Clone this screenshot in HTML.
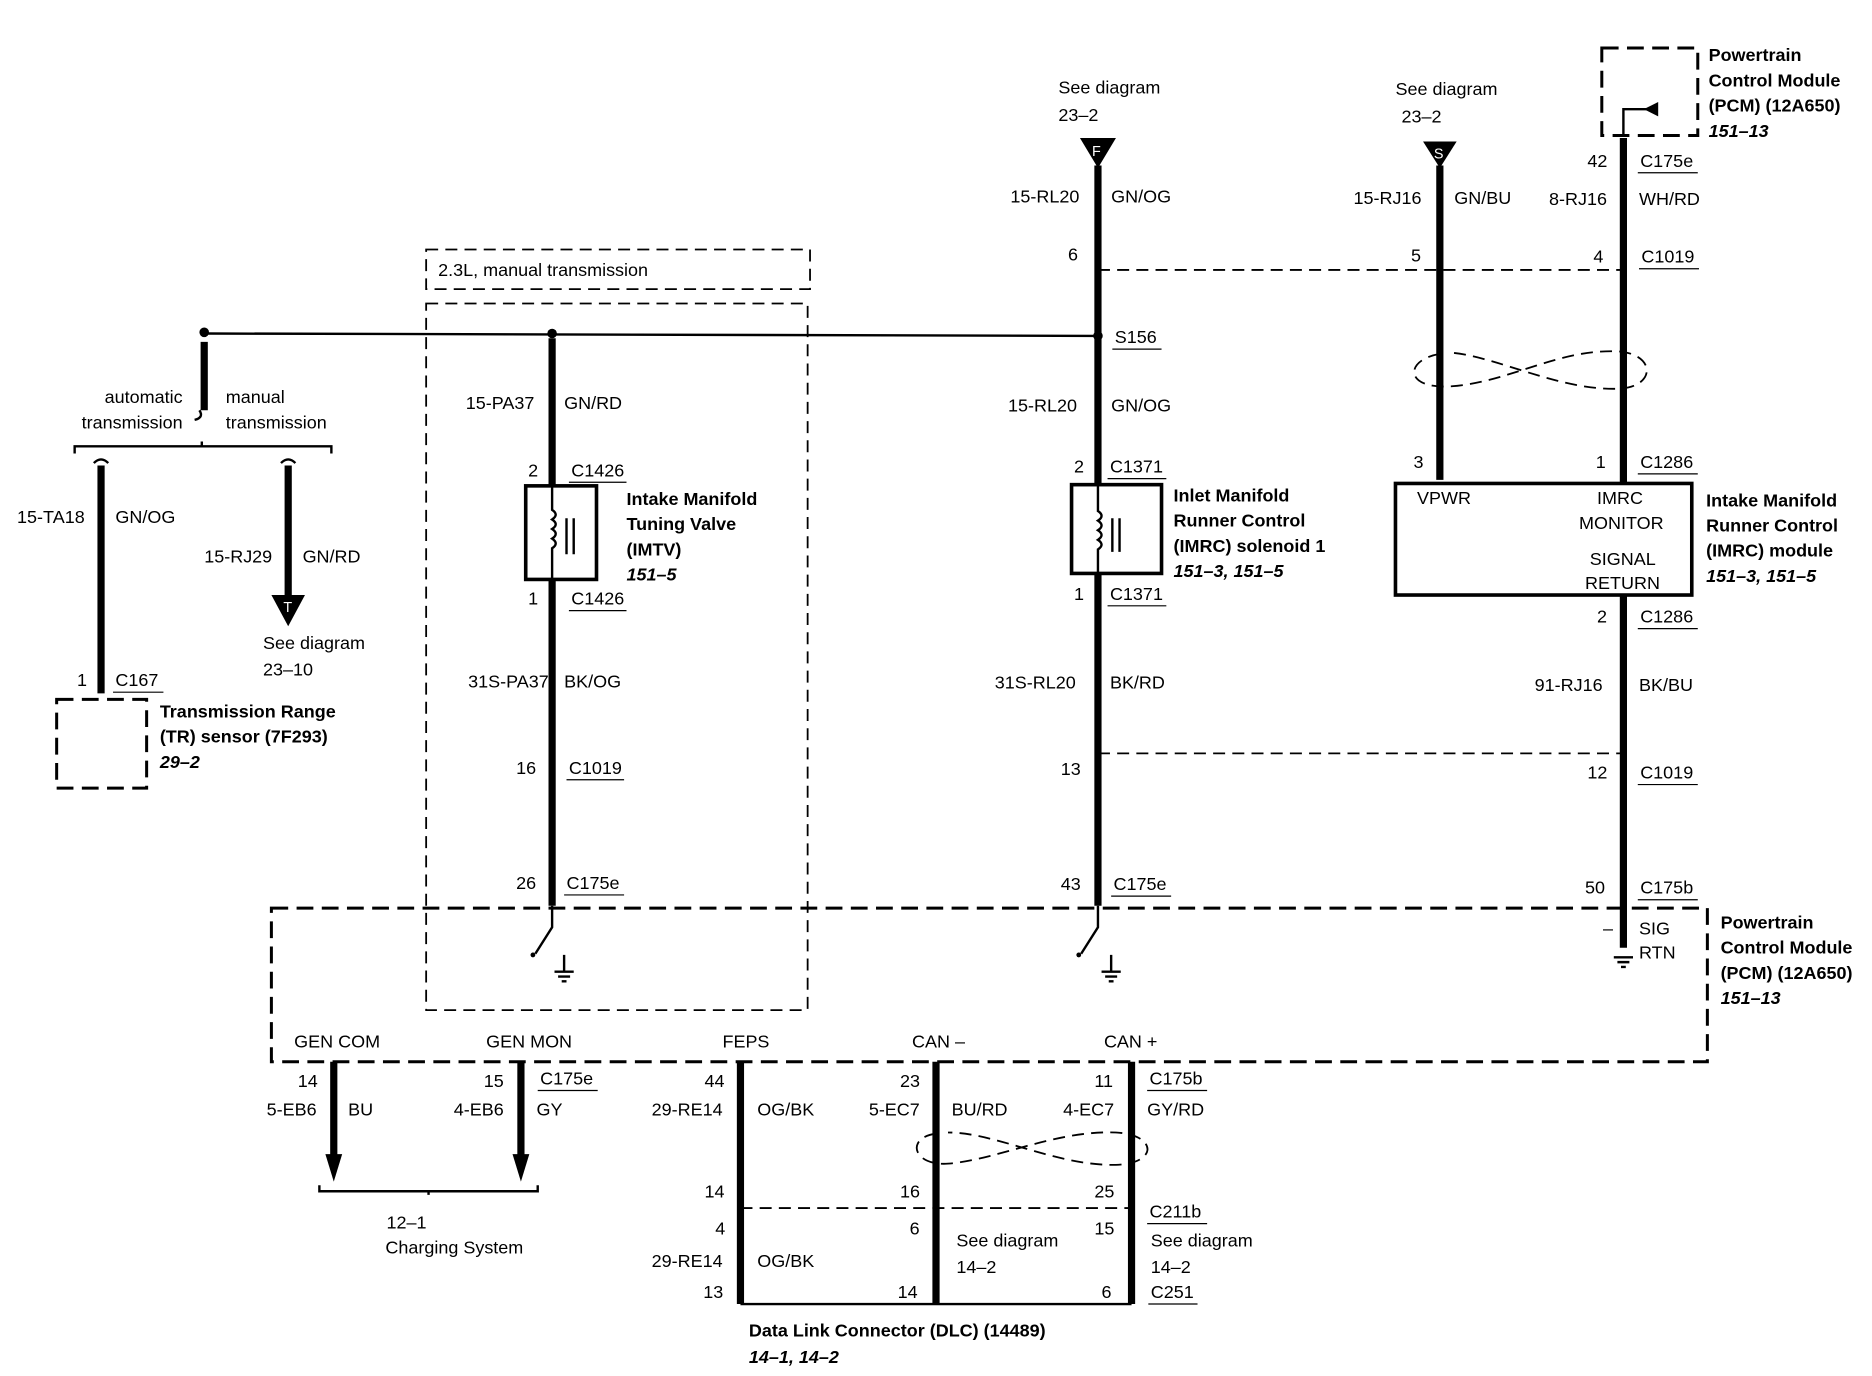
<!DOCTYPE html>
<html><head><meta charset="utf-8"><style>
html,body{margin:0;padding:0;background:#fff}
svg{display:block}
text{font-family:"Liberation Sans",sans-serif;font-size:15px;fill:#000}
.b{font-weight:bold}
.i{font-weight:bold;font-style:italic}
.w{stroke:#000;stroke-width:6;fill:none}
.t{stroke:#000;stroke-width:2;fill:none}
.d{stroke:#000;stroke-width:2.5;fill:none;stroke-dasharray:14 7}
.dd{stroke:#000;stroke-width:1.5;fill:none;stroke-dasharray:10 6}
.u{stroke:#000;stroke-width:1;}
</style></head><body>
<svg width="1872" height="1376" viewBox="0 0 1560 1147" xmlns="http://www.w3.org/2000/svg">
<line x1="170" y1="278" x2="915" y2="280" class="t"/>
<circle cx="170" cy="277" r="4"/><circle cx="460" cy="278" r="4"/><circle cx="915" cy="280" r="4"/>
<line x1="170" y1="285" x2="170" y2="342" class="w"/>
<path d="M166 342 q4 6 -4 8" class="t"/>
<text x="152" y="336" text-anchor="end">automatic</text>
<text x="152" y="357" text-anchor="end">transmission</text>
<text x="188" y="336">manual</text>
<text x="188" y="357">transmission</text>
<path d="M62 378 v-6 h214 v6 M168 372 v-4" class="t"/>
<line x1="84" y1="388" x2="84" y2="578" class="w"/>
<path d="M78 386 q6 -6 12 0" class="t"/>
<text x="14" y="436">15-TA18</text><text x="96" y="436">GN/OG</text>
<text x="64" y="572">1</text><text x="96" y="572">C167</text><line x1="94" y1="577" x2="136" y2="577" class="u"/>
<rect x="47" y="583" width="75" height="74" class="d"/>
<text x="133" y="598" class="b">Transmission Range</text>
<text x="133" y="619" class="b">(TR) sensor (7F293)</text>
<text x="133" y="640" class="i">29–2</text>
<line x1="240" y1="388" x2="240" y2="500" class="w"/>
<path d="M234 386 q6 -6 12 0" class="t"/>
<polygon points="226,496 254,496 240,522"/>
<text x="236" y="510" style="fill:#fff;font-size:12px">T</text>
<text x="170" y="469">15-RJ29</text><text x="252" y="469">GN/RD</text>
<text x="219" y="541">See diagram</text><text x="219" y="563">23–10</text>
<rect x="355" y="208" width="320" height="33" class="dd"/>
<text x="365" y="230">2.3L, manual transmission</text>
<rect x="355" y="253" width="318" height="589" class="dd"/>
<line x1="460" y1="282" x2="460" y2="405" class="w"/>
<line x1="460" y1="483" x2="460" y2="755" class="w"/>
<text x="388" y="341">15-PA37</text><text x="470" y="341">GN/RD</text>
<text x="440" y="397">2</text><text x="476" y="397">C1426</text><line x1="474" y1="402" x2="522" y2="402" class="u"/>
<rect x="438" y="405" width="59" height="78" fill="none" stroke="#000" stroke-width="3"/>
<path d="M460 405 v20 q6 4 0 8 q6 4 0 8 q6 4 0 8 q6 4 0 8 v26" class="t"/>
<path d="M472 432 v30 M478 432 v30" class="t"/>
<text x="440" y="504">1</text><text x="476" y="504">C1426</text><line x1="474" y1="509" x2="522" y2="509" class="u"/>
<text x="390" y="573">31S-PA37</text><text x="470" y="573">BK/OG</text>
<text x="430" y="645">16</text><text x="474" y="645">C1019</text><line x1="472" y1="650" x2="520" y2="650" class="u"/>
<text x="430" y="741">26</text><text x="472" y="741">C175e</text><line x1="470" y1="746" x2="520" y2="746" class="u"/>
<path d="M460 755 v18 l-14 22" class="t"/><circle cx="444" cy="796" r="2"/>
<path d="M470 796 v14 M462 810 h16 M465 814 h10 M468 818 h4" class="t"/>
<text x="522" y="421" class="b">Intake Manifold</text>
<text x="522" y="442" class="b">Tuning Valve</text>
<text x="522" y="463" class="b">(IMTV)</text>
<text x="522" y="484" class="i">151–5</text>
<polygon points="900,115 930,115 915,140"/>
<text x="910" y="130" style="fill:#fff;font-size:12px">F</text>
<text x="882" y="78">See diagram</text><text x="882" y="101">23–2</text>
<line x1="915" y1="138" x2="915" y2="404" class="w"/>
<line x1="915" y1="478" x2="915" y2="755" class="w"/>
<text x="842" y="169">15-RL20</text><text x="926" y="169">GN/OG</text>
<text x="890" y="217">6</text>
<line x1="915" y1="225" x2="1355" y2="225" class="dd"/>
<text x="929" y="286">S156</text><line x1="927" y1="291" x2="968" y2="291" class="u"/>
<text x="840" y="343">15-RL20</text><text x="926" y="343">GN/OG</text>
<text x="895" y="394">2</text><text x="925" y="394">C1371</text><line x1="923" y1="399" x2="972" y2="399" class="u"/>
<rect x="893" y="404" width="75" height="74" fill="none" stroke="#000" stroke-width="3"/>
<path d="M915 404 v22 q6 4 0 8 q6 4 0 8 q6 4 0 8 q6 4 0 8 v20" class="t"/>
<path d="M927 432 v28 M933 432 v28" class="t"/>
<text x="895" y="500">1</text><text x="925" y="500">C1371</text><line x1="923" y1="505" x2="972" y2="505" class="u"/>
<text x="829" y="574">31S-RL20</text><text x="925" y="574">BK/RD</text>
<text x="884" y="646">13</text>
<line x1="915" y1="628" x2="1355" y2="628" class="dd"/>
<text x="884" y="742">43</text><text x="928" y="742">C175e</text><line x1="926" y1="747" x2="976" y2="747" class="u"/>
<path d="M915 755 v18 l-14 22" class="t"/><circle cx="899" cy="796" r="2"/>
<path d="M926 796 v14 M918 810 h16 M921 814 h10 M924 818 h4" class="t"/>
<text x="978" y="418" class="b">Inlet Manifold</text>
<text x="978" y="439" class="b">Runner Control</text>
<text x="978" y="460" class="b">(IMRC) solenoid 1</text>
<text x="978" y="481" class="i">151–3, 151–5</text>
<polygon points="1186,118 1214,118 1200,140"/>
<text x="1195" y="132" style="fill:#fff;font-size:12px">S</text>
<text x="1163" y="79">See diagram</text><text x="1168" y="102">23–2</text>
<line x1="1200" y1="138" x2="1200" y2="400" class="w"/>
<text x="1128" y="170">15-RJ16</text><text x="1212" y="170">GN/BU</text>
<text x="1176" y="218">5</text>
<rect x="1335" y="40" width="80" height="73" class="d"/>
<path d="M1353 113 v-22 h24" class="t"/><polygon points="1382,85 1370,91 1382,97"/>
<line x1="1353" y1="115" x2="1353" y2="403" class="w"/>
<line x1="1353" y1="496" x2="1353" y2="790" class="w"/>
<text x="1424" y="51" class="b">Powertrain</text>
<text x="1424" y="72" class="b">Control Module</text>
<text x="1424" y="93" class="b">(PCM) (12A650)</text>
<text x="1424" y="114" class="i">151–13</text>
<text x="1323" y="139">42</text><text x="1367" y="139">C175e</text><line x1="1365" y1="144" x2="1415" y2="144" class="u"/>
<text x="1291" y="171">8-RJ16</text><text x="1366" y="171">WH/RD</text>
<text x="1328" y="219">4</text><text x="1368" y="219">C1019</text><line x1="1366" y1="224" x2="1416" y2="224" class="u"/>
<path d="M1200 295 C1170 300 1170 325 1210 322 C1260 318 1300 290 1350 293 C1380 296 1380 322 1350 324 C1300 326 1250 298 1210 294" class="dd"/>
<text x="1178" y="390">3</text><text x="1330" y="390">1</text><text x="1367" y="390">C1286</text><line x1="1365" y1="395" x2="1415" y2="395" class="u"/>
<rect x="1163" y="403" width="247" height="93" fill="none" stroke="#000" stroke-width="3"/>
<text x="1181" y="420">VPWR</text><text x="1331" y="420">IMRC</text><text x="1316" y="441">MONITOR</text>
<text x="1325" y="471">SIGNAL</text><text x="1321" y="491">RETURN</text>
<text x="1422" y="422" class="b">Intake Manifold</text>
<text x="1422" y="443" class="b">Runner Control</text>
<text x="1422" y="464" class="b">(IMRC) module</text>
<text x="1422" y="485" class="i">151–3, 151–5</text>
<text x="1331" y="519">2</text><text x="1367" y="519">C1286</text><line x1="1365" y1="524" x2="1415" y2="524" class="u"/>
<text x="1279" y="576">91-RJ16</text><text x="1366" y="576">BK/BU</text>
<text x="1323" y="649">12</text><text x="1367" y="649">C1019</text><line x1="1365" y1="654" x2="1415" y2="654" class="u"/>
<text x="1321" y="745">50</text><text x="1367" y="745">C175b</text><line x1="1365" y1="750" x2="1415" y2="750" class="u"/>
<text x="1336" y="779">–</text><text x="1366" y="779">SIG</text><text x="1366" y="799">RTN</text>
<path d="M1345 798 h16 M1348 802 h10 M1351 806 h4" class="t"/>
<rect x="226" y="757" width="1197" height="128" class="d"/>
<text x="1434" y="774" class="b">Powertrain</text>
<text x="1434" y="795" class="b">Control Module</text>
<text x="1434" y="816" class="b">(PCM) (12A650)</text>
<text x="1434" y="837" class="i">151–13</text>
<text x="245" y="873">GEN COM</text><text x="405" y="873">GEN MON</text><text x="602" y="873">FEPS</text>
<text x="760" y="873">CAN –</text><text x="920" y="873">CAN +</text>
<line x1="278" y1="885" x2="278" y2="965" class="w"/><polygon points="271,962 285,962 278,985"/>
<line x1="434" y1="885" x2="434" y2="965" class="w"/><polygon points="427,962 441,962 434,985"/>
<text x="248" y="906">14</text><text x="222" y="930">5-EB6</text><text x="290" y="930">BU</text>
<text x="403" y="906">15</text><text x="450" y="904">C175e</text><line x1="448" y1="909" x2="498" y2="909" class="u"/>
<text x="378" y="930">4-EB6</text><text x="447" y="930">GY</text>
<path d="M266 988 v5 h182 v-5 M357 993 v3" class="t"/>
<text x="322" y="1024">12–1</text><text x="321" y="1045">Charging System</text>
<line x1="617" y1="885" x2="617" y2="1087" class="w"/>
<line x1="780" y1="885" x2="780" y2="1087" class="w"/>
<line x1="943" y1="885" x2="943" y2="1087" class="w"/>
<line x1="617" y1="1007" x2="943" y2="1007" class="dd"/>
<line x1="617" y1="1087" x2="943" y2="1087" class="t"/>
<text x="587" y="906">44</text><text x="543" y="930">29-RE14</text><text x="631" y="930">OG/BK</text>
<text x="750" y="906">23</text><text x="724" y="930">5-EC7</text><text x="793" y="930">BU/RD</text>
<text x="912" y="906">11</text><text x="958" y="904">C175b</text><line x1="956" y1="909" x2="1006" y2="909" class="u"/>
<text x="886" y="930">4-EC7</text><text x="956" y="930">GY/RD</text>
<path d="M780 945 C755 948 760 972 790 970 C830 967 880 942 930 944 C965 946 965 970 930 971 C880 972 830 944 790 944" class="dd"/>
<text x="587" y="998">14</text><text x="750" y="998">16</text><text x="912" y="998">25</text>
<text x="958" y="1015">C211b</text><line x1="956" y1="1020" x2="1006" y2="1020" class="u"/>
<text x="596" y="1029">4</text><text x="758" y="1029">6</text><text x="912" y="1029">15</text>
<text x="797" y="1039">See diagram</text><text x="797" y="1061">14–2</text>
<text x="959" y="1039">See diagram</text><text x="959" y="1061">14–2</text>
<text x="543" y="1056">29-RE14</text><text x="631" y="1056">OG/BK</text>
<text x="586" y="1082">13</text><text x="748" y="1082">14</text><text x="918" y="1082">6</text>
<text x="959" y="1082">C251</text><line x1="957" y1="1087" x2="998" y2="1087" class="u"/>
<text x="624" y="1114" class="b">Data Link Connector (DLC) (14489)</text>
<text x="624" y="1136" class="i">14–1, 14–2</text>
</svg>
</body></html>
